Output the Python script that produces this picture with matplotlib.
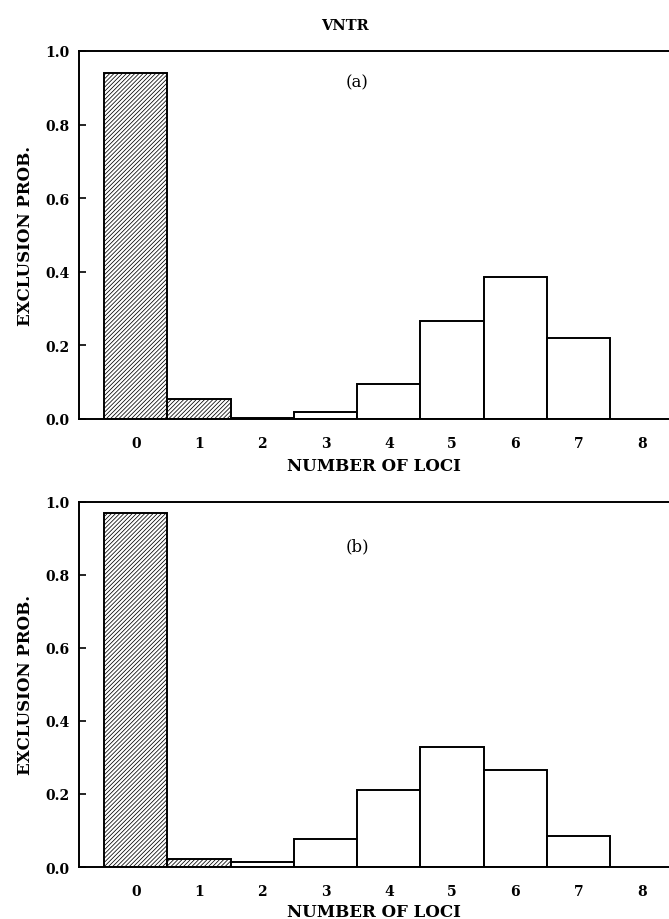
import matplotlib
matplotlib.use('Agg')
import matplotlib.pyplot as plt
import numpy as np

plt.rcParams['font.family'] = 'DejaVu Serif'
plt.rcParams['font.weight'] = 'bold'
plt.rcParams['axes.labelweight'] = 'bold'
plt.rcParams['hatch.linewidth'] = 0.55

loci = np.arange(9)
prob_a = [0.94, 0.053, 0.002, 0.018, 0.095, 0.267, 0.386, 0.219, 0.0]
prob_b = [0.97, 0.022, 0.013, 0.076, 0.21, 0.328, 0.265, 0.086, 0.0]
hatched = [True, True, False, False, False, False, False, False, False]
yticks = [0.0, 0.2, 0.4, 0.6, 0.8, 1.0]

fig = plt.figure(figsize=(6.69, 9.2), dpi=100)
ax1 = fig.add_axes([0.118, 0.5435, 0.882, 0.400])
ax2 = fig.add_axes([0.118, 0.0565, 0.882, 0.397])

for ax, vals, tag in [(ax1, prob_a, '(a)'), (ax2, prob_b, '(b)')]:
    for x, v, h in zip(loci, vals, hatched):
        if v <= 0:
            continue
        ax.bar(x, v, width=1.0, color='white', edgecolor='black',
               linewidth=1.4, hatch='////////' if h else None)
    ax.set_xlim(-0.9, 8.43)
    ax.set_ylim(0, 1.0)
    ax.set_xticks(loci)
    ax.set_yticks(yticks)
    ax.set_yticklabels(['%.1f' % t for t in yticks])
    ax.tick_params(axis='x', length=0, pad=12, labelsize=10)
    ax.tick_params(axis='y', direction='in', length=5, width=1.2, pad=7, labelsize=10)
    ax.spines['right'].set_visible(False)
    for s in ['left', 'bottom', 'top']:
        ax.spines[s].set_linewidth(1.4)
    ax.set_xlabel('NUMBER OF LOCI', fontsize=12, labelpad=5 if ax is ax1 else 4)
    ax.set_ylabel('EXCLUSION PROB.', fontsize=12, labelpad=8)
    ax.text(3.5, 0.915 if ax is ax1 else 0.88, tag, ha='center', va='center',
            fontsize=12, fontweight='normal')

fig.text(0.515, 0.972, 'VNTR', ha='center', va='center', fontsize=10.5)

fig.savefig('out.png', dpi=100)
